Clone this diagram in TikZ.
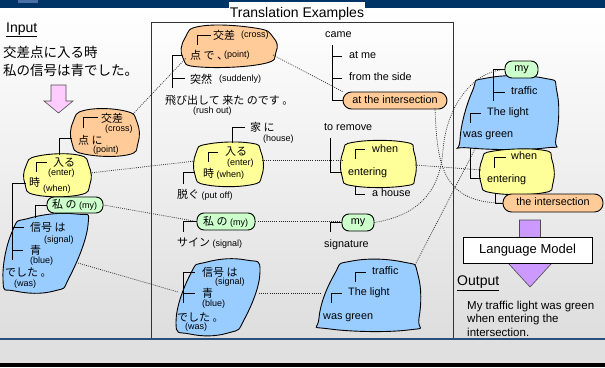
\documentclass[tikz,border=0pt]{standalone}
\usepackage{fontspec}
\setmainfont{Liberation Sans}
\newfontfamily\jpf{Noto Sans CJK JP}
\definecolor{navy}{HTML}{003366}
\definecolor{barlight}{HTML}{4A6FA5}
\definecolor{rulebl}{HTML}{27507F}
\definecolor{orangefill}{HTML}{FFCC99}
\definecolor{yellowfill}{HTML}{FFFF99}
\definecolor{greenfill}{HTML}{CCFFCC}
\definecolor{bluefill}{HTML}{99CCFF}
\definecolor{pinkfill}{HTML}{FFCCFF}
\definecolor{purplefill}{HTML}{CC99FF}
\newcommand\glosstext[1]{{\normalfont\fontsize{9}{11}\selectfont #1}}
\tikzset{
  blob/.style={draw=black, line width=0.9pt},
  tree/.style={draw=black, line width=1pt},
  link/.style={draw=black!85, line width=0.7pt, dash pattern=on 0.9pt off 1.2pt},
  en/.style={inner sep=0pt, anchor=west, font=\fontsize{10.8}{13}\selectfont, text height=7.8pt, text depth=2.2pt},
  gl/.style={inner sep=0pt, anchor=west, font=\fontsize{9}{11}\selectfont, text height=6.5pt, text depth=1.8pt},
  jp/.style={inner sep=0pt, anchor=west, font=\fontsize{11}{13}\selectfont\jpf},
  pill/.style={draw=black, line width=0.9pt, fill=orangefill, rounded corners=8.5pt, inner sep=0pt,
    font=\fontsize{10.8}{13}\selectfont, text height=7.8pt, text depth=2.2pt},
  greenbox/.style={draw=black, line width=0.9pt, fill=greenfill, rounded corners=7pt, inner sep=0pt},
  bigarrow/.style={draw=black!70, line width=0.6pt},
}
\begin{document}
\begin{tikzpicture}[x=1pt,y=-1pt]
\useasboundingbox (0,0) rectangle (605,367);
% slide backdrop
\shade[top color=white, bottom color=black!13] (0,8) rectangle (605,338);
\fill[navy] (0,0) rectangle (605,8);
\fill[barlight] (18,0) rectangle (38,3);
\fill[black!12] (0,339) rectangle (605,363);
\fill[black] (0,363) rectangle (605,367);

% frame of the example column
\draw[line width=0.9pt, black!80] (151,22) rectangle (453,338);
\fill[white] (229,2) rectangle (365,21);
\node[anchor=base, inner sep=0pt, font=\fontsize{14}{16}\selectfont] (title) at (297,17) {Translation Examples};
\draw[line width=2pt, draw=rulebl] (0,338.5) -- (605,338.5);

% ---------------- input ----------------
\node[anchor=west, inner sep=0pt, font=\fontsize{14}{16}\selectfont] (input) at (6,30) {\underline{Input}};
\node[anchor=west, inner sep=0pt, font=\fontsize{13.5}{16}\selectfont\jpf] (in1) at (3,52) {交差点に入る時};
\node[anchor=west, inner sep=0pt, font=\fontsize{13.5}{16}\selectfont\jpf] (in2) at (3,70) {私の信号は青でした。};
\draw[bigarrow, fill=pinkfill] (51,85) -- (66,85) -- (66,101) -- (73,101) -- (58.5,113) -- (44,101) -- (51,101) -- cycle;

% input chunks
\draw[blob, fill=orangefill] plot[smooth cycle, tension=0.8] coordinates {(86,110) (125,111) (137,122) (138,143) (127,155) (84,154) (72,143) (73,122)};
\draw[blob, fill=yellowfill] plot[smooth cycle, tension=0.8] coordinates {(38,156) (78,155) (89,166) (90,184) (79,195) (36,195) (25,184) (26,166)};
\draw[blob, fill=bluefill] plot[smooth cycle, tension=0.85] coordinates {(30,218) (76,214) (88,225) (70,276) (54,291) (15,291) (3,280) (12,232)};
\node[greenbox, minimum width=56pt, minimum height=16pt] (lmy) at (75,205) {};

\draw[tree] (83,128) |- (98,117);
\draw[tree] (72,138) -| (59,155);
\draw[tree] (36,172) |- (47,162);
\draw[tree] (26,183) -| (12,260);
\draw[tree] (12,227) -- (24,227);
\draw[tree] (12,250) -- (23,250);
\draw[tree] (lmy.west) -| (35,218);

\node[jp] (l1) at (101,118) {交差};
\node[gl] (l2) at (105,129) {(cross)};
\node[jp] (l3) at (78,140) {点 に};
\node[gl] (l4) at (93,150) {(point)};
\node[jp] (l5) at (53,163) {入る};
\node[gl] (l6) at (48,173) {(enter)};
\node[jp] (l7) at (29,182) {時};
\node[gl] (l8) at (43,189) {(when)};
\node[jp] (l9) at (52,205) {私 の \glosstext{(my)}};
\node[jp] (l10) at (30,227) {信号 は};
\node[gl] (l11) at (44,240) {(signal)};
\node[jp] (l12) at (30,250) {青};
\node[gl] (l13) at (30,261) {(blue)};
\node[jp] (l14) at (5,272) {でした 。};
\node[gl] (l15) at (14,284) {(was)};

% ---------------- Japanese examples ----------------
\draw[blob, fill=orangefill] plot[smooth cycle, tension=0.8] coordinates {(202,26) (255,28) (273,37) (276,52) (262,64) (200,67) (183,58) (185,38)};
\draw[blob, fill=yellowfill] plot[smooth cycle, tension=0.8] coordinates {(208,144) (250,143) (261,152) (262,175) (250,185) (207,185) (195,175) (196,153)};
\draw[blob, fill=bluefill] plot[smooth cycle, tension=0.85] coordinates {(207,262) (246,260) (260,272) (245,318) (228,333) (190,334) (176,322) (190,275)};
\node[greenbox, minimum width=58pt, minimum height=17pt] (mmy) at (226,221.5) {};

\draw[tree] (197,45) |- (211,35);
\draw[tree] (182,55) -| (172,88);
\draw[tree] (172,78) -- (185,78);
\draw[tree] (232,143) |- (245,127);
\draw[tree] (208,162) |- (218,152);
\draw[tree] (195,172) -| (183,184);
\draw[tree] (mmy.west) -| (183,232);
\draw[tree] (195,272) -| (183,303);
\draw[tree] (183,293) -- (195,293);

\node[jp] (m1) at (213,35) {交差};
\node[gl] (m2) at (241,35) {(cross)};
\node[jp] (m3) at (190,55) {点 で 、};
\node[gl] (m4) at (224,55) {(point)};
\node[jp] (m5) at (190,79) {突然};
\node[gl] (m6) at (219,79) {(suddenly)};
\node[jp] (m7) at (165,100) {飛び出して 来た のです 。};
\node[gl] (m8) at (193,111) {(rush out)};
\node[jp] (m9) at (250,127) {家 に};
\node[gl] (m10) at (263,139) {(house)};
\node[jp] (m11) at (225,152) {入る};
\node[gl] (m12) at (227,163) {(enter)};
\node[jp] (m13) at (203,174) {時 \glosstext{(when)}};
\node[jp] (m14) at (177,195) {脱ぐ \glosstext{(put off)}};
\node[jp] (m15) at (203,221.5) {私 の \glosstext{(my)}};
\node[jp] (m16) at (177,243) {サイン \glosstext{(signal)}};
\node[jp] (m17) at (202,272) {信号 は};
\node[gl] (m18) at (215,282) {(signal)};
\node[jp] (m19) at (202,293) {青};
\node[gl] (m20) at (202,304) {(blue)};
\node[jp] (m21) at (177,317) {でした 。};
\node[gl] (m22) at (185,327) {(was)};

% ---------------- English examples ----------------
\draw[blob, fill=yellowfill] plot[smooth cycle, tension=0.8] coordinates {(355,142) (404,142) (414,152) (415,177) (404,186) (354,186) (342,176) (343,152)};
\draw[blob, fill=bluefill] plot[smooth cycle, tension=0.85] coordinates {(352,261) (403,262) (418,275) (419,318) (408,330) (330,329) (319,318) (334,275)};
\node[pill, minimum width=104pt, minimum height=17pt] (eint) at (395,100.5) {at the intersection};
\node[greenbox, minimum width=32pt, minimum height=17pt, font=\fontsize{10.8}{13}\selectfont] (emy) at (358,222.5) {my};

\draw[tree] (332,45) |- (eint.west);
\draw[tree] (332,56) -- (342,56);
\draw[tree] (332,78) -- (342,78);
\draw[tree] (330,138) |- (342,172);
\draw[tree] (355,159) |- (365,149);
\draw[tree] (355,186) |- (365,194);
\draw[tree] (emy.west) -| (330,232);
\draw[tree] (355,282) |- (366,272);
\draw[tree] (331,303) |- (342,293);

\node[en] (e1) at (325,35) {came};
\node[en] (e2) at (349,56) {at me};
\node[en] (e3) at (349,78) {from the side};
\node[en] (e4) at (324,128) {to remove};
\node[en] (e5) at (372,150) {when};
\node[en] (e6) at (348,173) {entering};
\node[en] (e7) at (372,194) {a house};
\node[en] (e8) at (324,245) {signature};
\node[en] (e9) at (372,272) {traffic};
\node[en] (e10) at (348,293) {The light};
\node[en] (e11) at (323,317) {was green};

% ---------------- combined result ----------------
\draw[blob, fill=bluefill] plot[smooth cycle, tension=0.85] coordinates {(487,78) (543,78) (557,92) (556,138) (545,148) (470,148) (460,140) (472,92)};
\draw[blob, fill=yellowfill] plot[smooth cycle, tension=0.8] coordinates {(494,151) (542,150) (552,160) (553,183) (542,193) (493,193) (481,183) (482,160)};
\node[greenbox, minimum width=33pt, minimum height=17pt, font=\fontsize{10.8}{13}\selectfont] (rmy) at (521.5,69.5) {my};
\node[pill, minimum width=100pt, minimum height=18pt] (rint) at (553,203) {the intersection};

\draw[tree] (rmy.west) -| (493,101);
\draw[tree] (493,92) -- (505,92);
\draw[tree] (470,123) |- (481,113);
\draw[tree] (470,148) |- (481,178);
\draw[tree] (494,168) |- (506,157);
\draw[tree] (495,193) |- (rint.west);

\node[en] (r1) at (511,92) {traffic};
\node[en] (r2) at (487,113) {The light};
\node[en] (r3) at (463,135) {was green};
\node[en] (r4) at (511,157) {when};
\node[en] (r5) at (487,180) {entering};

% language model and output
\draw[bigarrow, fill=purplefill] (519.5,220) -- (540.5,220) -- (540.5,263) -- (552,263) -- (530,287) -- (508,263) -- (519.5,263) -- cycle;
\node[draw=black, line width=0.8pt, fill=white, minimum width=129pt, minimum height=26pt, inner sep=0pt,
  font=\fontsize{13}{15}\selectfont] (lm) at (527.5,250) {Language Model};
\node[anchor=west, inner sep=0pt, font=\fontsize{14}{16}\selectfont] (output) at (457,283) {\underline{Output}};
\node[anchor=base west, inner sep=0pt, font=\fontsize{11.5}{13}\selectfont] (o1) at (467,309) {My traffic light was green};
\node[anchor=base west, inner sep=0pt, font=\fontsize{11.5}{13}\selectfont] (o2) at (467,322.5) {when entering the};
\node[anchor=base west, inner sep=0pt, font=\fontsize{11.5}{13}\selectfont] (o3) at (467,336) {intersection.};

% ---------------- correspondence links ----------------
\coordinate (lo) at (133,114);
\coordinate (mo) at (186,58);
\coordinate (mo2) at (273,55);
\coordinate (ly) at (90,173);
\coordinate (my1) at (195,161);
\coordinate (my2) at (262,160);
\coordinate (ey1) at (342,160);
\coordinate (ey2) at (415,165);
\coordinate (ry) at (481,170);
\coordinate (lb) at (78,263);
\coordinate (mb1) at (178,292);
\coordinate (mb2) at (259,293);
\coordinate (eb1) at (320,293);
\coordinate (eb2) at (415,265);
\coordinate (rb) at (476,147);
\coordinate (eis) at (435,108);

\draw[link] (lo) -- (mo);
\draw[link] (mo2) -- (eint.north west);
\draw[link] (ly) -- (my1);
\draw[link] (my2) -- (ey1);
\draw[link] (ey2) -- (ry);
\draw[link] (lmy.east) -- (mmy.west);
\draw[link] (mmy.east) -- (emy.west |- mmy.east);
\draw[link] (lb) -- (mb1);
\draw[link] (mb2) -- (eb1);
\draw[link] (eb2) -- (rb);
\draw[link] (eis) .. controls (437,160) and (440,203) .. (rint.west);
\draw[link] (emy.east) .. controls (420,215) and (440,190) .. (443,150) .. controls (446,110) and (470,72) .. (rmy.west);
\end{tikzpicture}
\end{document}
